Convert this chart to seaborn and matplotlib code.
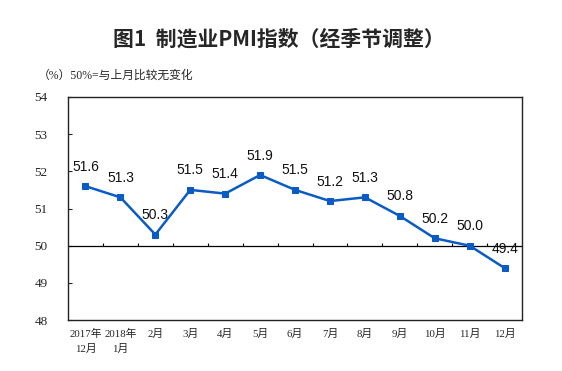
import matplotlib.pyplot as plt
import seaborn as sns
import pandas as pd
import numpy as np

months = ['2017年\n12月', '2018年\n1月', '2月', '3月', '4月', '5月', '6月',
          '7月', '8月', '9月', '10月', '11月', '12月']
pmi = [51.6, 51.3, 50.3, 51.5, 51.4, 51.9, 51.5, 51.2, 51.3, 50.8, 50.2, 50.0, 49.4]
yticks = [48, 49, 50, 51, 52, 53, 54]

sns.set_style('white')
plt.rcParams['font.family'] = ['Liberation Serif', 'Noto Sans CJK SC']

data = pd.DataFrame({'x': np.arange(len(months)), 'pmi': pmi})

fig = plt.figure(figsize=(5.62, 3.71), dpi=100)
ax = fig.add_axes([0.121, 0.137, 0.808, 0.602])
blue = '#0a5cc4'
sns.lineplot(data=data, x='x', y='pmi', ax=ax, color=blue, linewidth=1.8,
             marker='s', markersize=4.5, markeredgecolor=blue)

for i, v in enumerate(pmi):
    ax.annotate(f'{v:.1f}', (i, v), xytext=(0, 9), textcoords='offset points',
                ha='center', va='bottom', fontsize=10,
                family=['Liberation Sans', 'DejaVu Sans'], color='#111111')

ax.set_xlim(-0.5, len(months) - 0.5)
ax.set_ylim(48, 54)
ax.set_yticks(yticks)
ax.set_yticklabels([str(t) for t in yticks], fontsize=9.5)
ax.set_xticks(np.arange(len(months)))
ax.set_xticklabels(months, fontsize=7.8, linespacing=1.6)
ax.tick_params(axis='x', length=0, pad=6)
ax.tick_params(axis='y', direction='in', length=3, width=0.8, left=True, pad=24)
for lab in ax.get_yticklabels():
    lab.set_horizontalalignment('left')
ax.set_xlabel('')
ax.set_ylabel('')

ax.axhline(50, color='black', linewidth=0.9, zorder=1)
bounds = np.arange(0.5, len(months) - 0.5, 1)
ax.vlines(bounds, 50, 50.08, color='black', linewidth=0.8, zorder=1)

for s in ax.spines.values():
    s.set_visible(True)
    s.set_color('#222222')
    s.set_linewidth(1.0)

fig.text(0.497, 0.895, '图1  制造业PMI指数（经季节调整）', ha='center', va='center',
         fontsize=15, fontweight='bold', family=['Noto Sans CJK SC', 'DejaVu Sans'])
fig.text(0.068, 0.797, '（%）50%=与上月比较无变化', ha='left', va='center',
         fontsize=8.5, family=['Liberation Serif', 'Noto Sans CJK SC'])

fig.savefig('out.png', dpi=100)
